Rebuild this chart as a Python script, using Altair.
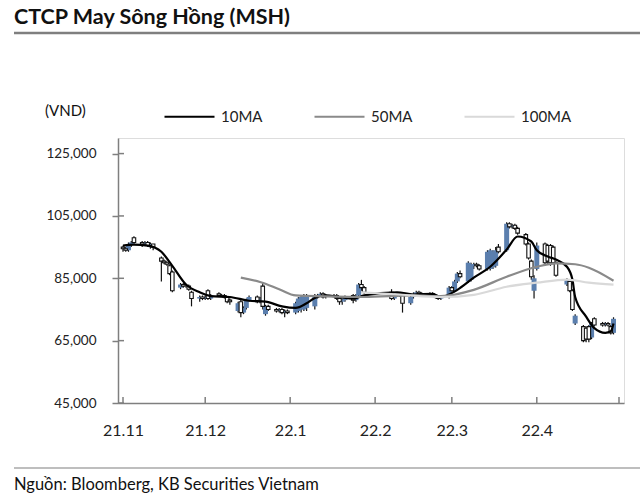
import altair as alt
import pandas as pd

# ---------------- data (thousand VND) ----------------
holidays = ["2022-01-31", "2022-02-01", "2022-02-02", "2022-02-03", "2022-02-04", "2022-04-11"]
dates = [d for d in pd.bdate_range("2021-11-01", "2022-04-29") if d.strftime("%Y-%m-%d") not in holidays]

open_nov = [95, 94.5, 94, 96, 98, 96.5, 96, 96.5, 95, 96, 91.5, 90.5, 90, 89, 87, 82, 83, 82.5, 82.5, 80.5, 78.5, 79]
high_nov = [95.5, 95, 96.5, 97, 98.5, 97, 97, 97, 96.5, 96, 92, 91, 90.5, 89.5, 87.5, 83.5, 83.5, 83, 83, 81, 79.5, 79.5]
low_nov = [93.5, 93.5, 93.5, 95, 96, 95, 95.5, 95, 94.5, 94, 84, 89.5, 89, 86, 80.5, 81.5, 82, 82, 81, 76, 77.5, 78]
close_nov = [94.5, 94, 96, 96.5, 96.5, 96, 96.5, 95.5, 96, 95, 90.5, 90, 89.5, 86.5, 81, 83, 82.5, 82.5, 81.5, 78.5, 79, 78.5]

open_dec = [78.5, 81, 78.5, 80, 79.5, 79.5, 79, 78, 74.5, 77.5, 74, 75.5, 78, 79, 77.5, 82.5, 73.5, 76, 75, 74.5, 75, 74, 74.5]
high_dec = [79.5, 81.5, 80, 80.5, 80, 80, 79, 78.5, 77.5, 78, 76, 78.5, 79.5, 79.5, 79, 83.5, 76.5, 76.5, 75.5, 75.5, 75.5, 75, 75]
low_dec = [78, 78, 78, 79, 79, 78.5, 77, 76.5, 74, 72.5, 73.5, 75, 77.5, 77, 77, 75, 73, 74.5, 74, 74, 73.5, 72.5, 73.5]
close_dec = [79, 78.5, 79.5, 79.5, 79.5, 79, 77.5, 77.5, 77, 74, 75.5, 78, 79, 77.5, 78.5, 76, 76, 75, 74.5, 75, 74, 74.5, 74]

open_jan = [74, 74.5, 75, 75, 75.5, 76, 79, 79.5, 80, 79, 79.5, 79.5, 78.5, 77.5, 78, 79.5, 78, 79.5, 83, 82]
high_jan = [77.5, 79, 79.5, 80, 80, 80, 80, 80.5, 80.5, 80, 80, 80, 78.5, 78.5, 79.5, 80, 80, 83.5, 84.5, 82.5]
low_jan = [73.5, 74, 74, 74.5, 74.5, 75, 78.5, 79, 78.5, 78.5, 79, 78, 76.5, 76.5, 77.5, 77, 77.5, 79, 81, 80]
close_jan = [77, 78.5, 79, 79.5, 79.5, 79.5, 79.5, 80, 79, 79.5, 79.5, 78.5, 77.5, 78, 79, 78, 79.5, 83, 82, 80.5]

open_feb = [80.5, 78.5, 79.5, 80, 79.5, 77, 79, 80, 80.5, 80, 80, 80, 79.5, 79, 78.5, 79]
high_feb = [81.5, 80, 80.5, 80.5, 79.5, 79.5, 80.5, 81, 81, 80.5, 80.5, 80.5, 80, 79.5, 79.5, 82.5]
low_feb = [78, 78, 79, 79, 74, 76.5, 78.5, 79.5, 79.5, 79.5, 79.5, 79.5, 78.5, 78, 78, 78.5]
close_feb = [78.5, 79.5, 80, 79.5, 77, 79, 80, 80.5, 80, 80, 80, 79.5, 79, 78.5, 79, 82]

open_mar = [82, 81, 84, 86.5, 84, 84.5, 89, 89.5, 89, 88, 88, 88.5, 89, 95, 94, 102.5, 101.5, 102, 101, 99, 96, 90.5, 81]
high_mar = [82.5, 84.5, 87, 87.5, 90.5, 90, 90, 90, 89.5, 94, 94.5, 94, 95, 96, 103, 103, 102.5, 102.5, 101.5, 99.5, 96.5, 91, 86]
low_mar = [80.5, 80.5, 83.5, 85, 83.5, 84, 88, 88.5, 87.5, 87.5, 87.5, 88, 88.5, 93, 93.5, 101, 101, 100.5, 99, 95.5, 91, 84.5, 78.5]
close_mar = [81, 84, 86.5, 85.5, 90, 89.5, 89.5, 89, 88, 93.5, 94, 93.5, 94, 93.5, 102.5, 101.5, 102, 101, 99.5, 96, 91.5, 85.5, 85]

open_apr = [88, 96, 95.5, 95.5, 95, 90, 83, 84, 81, 70.5, 69.5, 69, 69.5, 66, 72, 70.5, 70, 70.5, 69.5, 67.5]
high_apr = [96.5, 96.5, 96, 96, 95.5, 90.5, 85, 84.5, 81.5, 73.5, 70, 69.5, 70, 71, 72.5, 71, 71, 71, 70, 72.5]
low_apr = [87.5, 89, 89.5, 89, 89.5, 85.5, 82.5, 80.5, 74.5, 70, 64.5, 64.5, 64.5, 65.5, 69.5, 69.5, 69.5, 69.5, 67, 67]
close_apr = [95.5, 90, 90.5, 90, 90, 86, 84.5, 81, 75, 73, 65, 65.5, 65.5, 70.5, 70, 70, 70.5, 70, 67.5, 72]

ma10_dates = ["2021-11-01", "2021-11-05", "2021-11-10", "2021-11-15", "2021-11-19", "2021-11-24", "2021-11-29",
              "2021-12-03", "2021-12-10", "2021-12-17", "2021-12-23", "2021-12-29", "2022-01-03", "2022-01-07",
              "2022-01-10", "2022-01-14", "2022-01-19", "2022-01-24", "2022-01-28", "2022-02-09", "2022-02-15",
              "2022-02-22", "2022-02-25", "2022-03-03", "2022-03-09", "2022-03-15", "2022-03-21", "2022-03-25",
              "2022-03-30", "2022-04-01", "2022-04-05", "2022-04-08", "2022-04-12", "2022-04-14", "2022-04-15",
              "2022-04-19", "2022-04-22", "2022-04-26", "2022-04-28", "2022-04-29"]
ma10_vals = [95.5, 95.8, 95.5, 93.5, 89, 83, 80.5, 79.3, 79, 77.8, 77.5, 76, 75.5, 77, 78.7, 79.5, 79, 78.5, 79.5,
             80.5, 79.8, 80, 79, 81.3, 85.2, 88.7, 94.2, 98.4, 96.8, 94, 92, 91, 88.7, 84.6, 79, 72.7, 69, 67.5, 68, 70.5]

ma50_dates = ["2021-12-14", "2021-12-21", "2021-12-28", "2022-01-03", "2022-01-14", "2022-01-28", "2022-02-15",
              "2022-02-25", "2022-03-09", "2022-03-21", "2022-04-01", "2022-04-08", "2022-04-15", "2022-04-20",
              "2022-04-29"]
ma50_vals = [85.2, 83.8, 81.5, 79.5, 79.2, 79, 79.5, 79.3, 81.3, 85.5, 88.7, 89.8, 89.5, 88.4, 84.2]

ma100_dates = ["2022-01-27", "2022-02-10", "2022-02-25", "2022-03-09", "2022-03-21", "2022-04-01", "2022-04-12",
               "2022-04-20", "2022-04-29"]
ma100_vals = [80.5, 79.8, 79, 79.7, 82.3, 83.6, 84.6, 83.6, 83]

y_ticks = [45000, 65000, 85000, 105000, 125000]
month_ticks = ["2021-11-01", "2021-12-01", "2022-01-01", "2022-02-01", "2022-03-01", "2022-04-01", "2022-05-01"]
series_names = ["10MA", "50MA", "100MA"]
series_colors = ["#000000", "#8a8a8a", "#d9d9d9"]

# ---------------- tables ----------------
opens = open_nov + open_dec + open_jan + open_feb + open_mar + open_apr
highs = high_nov + high_dec + high_jan + high_feb + high_mar + high_apr
lows = low_nov + low_dec + low_jan + low_feb + low_mar + low_apr
closes = close_nov + close_dec + close_jan + close_feb + close_mar + close_apr
n = min(len(dates), len(opens), len(highs), len(lows), len(closes))
candles = pd.DataFrame({
    "date": [d.strftime("%Y-%m-%d") for d in dates[:n]],
    "open": [v * 1000 for v in opens[:n]],
    "high": [v * 1000 for v in highs[:n]],
    "low": [v * 1000 for v in lows[:n]],
    "close": [v * 1000 for v in closes[:n]],
})

ma_rows = []
for name, ds, vs in [("10MA", ma10_dates, ma10_vals), ("50MA", ma50_dates, ma50_vals), ("100MA", ma100_dates, ma100_vals)]:
    for d, v in zip(ds, vs):
        ma_rows.append({"date": d, "value": v * 1000, "series": name})
ma = pd.DataFrame(ma_rows)

W, H = 506, 265
FONT = "Lato"

x_scale = alt.Scale(domain=[alt.DateTime(year=2021, month=11, date=1), alt.DateTime(year=2022, month=5, date=1)])
y_scale = alt.Scale(domain=[45000, 130000], nice=False, zero=False)
label_vals = [alt.DateTime(year=int(m[:4]), month=int(m[5:7]), date=1) for m in month_ticks[:-1]]
x_axis = alt.Axis(values=label_vals, format="%y.%-m", title=None, ticks=False, grid=False, labelFontSize=16,
                  labelPadding=19, labelColor="#222222", domainColor="#7f7f7f", domainWidth=1.5, labelFont=FONT)
y_axis = alt.Axis(values=y_ticks, format=",.0f", title=None, grid=False, tickSize=6, tickColor="#7f7f7f",
                  tickWidth=1.5, domainColor="#7f7f7f", domainWidth=1.5, labelFontSize=13.5, labelPadding=16,
                  labelColor="#222222", labelFont=FONT)

base = alt.Chart(candles)
X = alt.X("date:T", scale=x_scale, axis=x_axis)

wicks = base.mark_rule(color="#111111", strokeWidth=1.2).encode(
    x=X, y=alt.Y("low:Q", scale=y_scale, axis=y_axis), y2="high:Q")
up = base.transform_filter("datum.close >= datum.open").mark_bar(size=5, color="#5b7fae").encode(
    x=X, y=alt.Y("open:Q", scale=y_scale, axis=y_axis), y2="close:Q")
down = base.transform_filter("datum.close < datum.open").mark_bar(
    size=3.5, fill="white", stroke="#111111", strokeWidth=1.1).encode(
    x=X, y=alt.Y("open:Q", scale=y_scale, axis=y_axis), y2="close:Q")

lines = alt.Chart(ma).mark_line(strokeWidth=2.2, interpolate="monotone").encode(
    x=X,
    y=alt.Y("value:Q", scale=y_scale, axis=y_axis),
    color=alt.Color("series:N", scale=alt.Scale(domain=series_names, range=series_colors),
                    legend=alt.Legend(title=None, orient="none", legendX=45, legendY=-48, direction="horizontal",
                                      symbolType="stroke", symbolSize=2500, symbolStrokeWidth=2.2,
                                      labelFontSize=15, labelFont=FONT, labelColor="#222222",
                                      columnPadding=47, labelOffset=5)),
    detail="series:N",
)

ytick_df = pd.DataFrame({"v": y_ticks})
ytick_in = alt.Chart(ytick_df).mark_rule(color="#7f7f7f", strokeWidth=1.5).encode(
    y=alt.Y("v:Q", scale=y_scale, axis=y_axis), x=alt.value(0), x2=alt.value(6))
xtick_df = pd.DataFrame({"d": month_ticks})
xtick_in = alt.Chart(xtick_df).mark_rule(color="#7f7f7f", strokeWidth=1.5).encode(
    x=alt.X("d:T", scale=x_scale, axis=x_axis), y=alt.value(H - 6), y2=alt.value(H))

def text_layer(txt, x, y, size, weight="normal", baseline="middle"):
    return alt.Chart(alt.Data(values=[{"t": txt}])).mark_text(
        align="left", baseline=baseline, fontSize=size, fontWeight=weight, font=FONT, color="#111111"
    ).encode(text="t:N", x=alt.value(x), y=alt.value(y))

def hrule(x1, x2, y, color, width):
    return alt.Chart(alt.Data(values=[{"a": 1}])).mark_rule(color=color, strokeWidth=width).encode(
        x=alt.value(x1), x2=alt.value(x2), y=alt.value(y))

title = text_layer("CTCP May Sông Hồng (MSH)", -104, -114, 21.5, "bold", "alphabetic")
title_rule = hrule(-104, 522, -105, "#7f7f7f", 2.5)
vnd = text_layer("(VND)", -73, -27, 15)
src_rule = hrule(-104, 522, 330, "#7f7f7f", 1.2)
source = text_layer("Nguồn: Bloomberg, KB Securities Vietnam", -104, 347, 16.5)

chart = alt.layer(
    wicks, up, down, lines, ytick_in, xtick_in, title, title_rule, vnd, src_rule, source
).properties(
    width=W, height=H,
    autosize=alt.AutoSizeParams(type="none"),
    padding={"left": 118, "top": 138, "right": 16, "bottom": 98},
).configure_view(stroke=None).configure(background="white")

chart.save("out.html", embed_options={"renderer": "svg", "actions": False})
